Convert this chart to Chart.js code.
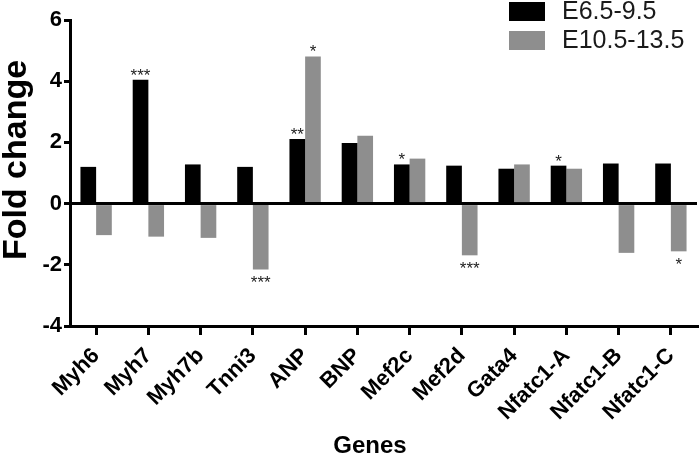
<!DOCTYPE html>
<html>
<head>
<meta charset="utf-8">
<script src="https://cdn.jsdelivr.net/npm/chart.js@4/dist/chart.umd.min.js"></script>
<style>
    html, body { margin: 0; padding: 0; background: #fff; }
    #wrap { width: 700px; height: 457px; position: relative; }
</style>
</head>
<body>
<div id="wrap"><canvas id="grafica"></canvas></div>
<script>
// Datos
const genes = ['Myh6', 'Myh7', 'Myh7b', 'Tnni3', 'ANP', 'BNP', 'Mef2c', 'Mef2d', 'Gata4', 'Nfatc1-A', 'Nfatc1-B', 'Nfatc1-C'];
const early = [1.20, 4.05, 1.28, 1.20, 2.11, 1.98, 1.28, 1.24, 1.14, 1.24, 1.31, 1.31];
const late = [-1.03, -1.08, -1.12, -2.15, 4.81, 2.22, 1.47, -1.69, 1.28, 1.14, -1.61, -1.56];
const sigEarly = ['', '***', '', '', '**', '', '*', '', '', '*', '', ''];
const sigLate = ['', '', '', '***', '*', '', '', '***', '', '', '', '*'];
const yTicks = [-4, -2, 0, 2, 4, 6];

const FONT = "Arial, 'Liberation Sans', sans-serif";

// asteriscos sobre / bajo las barras
const starsPlugin = {
    id: 'stars',
    afterDatasetsDraw(chart) {
        const ctx = chart.ctx;
        const marks = [sigEarly, sigLate];
        ctx.save();
        ctx.font = '17px ' + FONT;
        ctx.fillStyle = '#222';
        ctx.textAlign = 'center';
        ctx.textBaseline = 'alphabetic';
        chart.data.datasets.forEach((ds, i) => {
            const meta = chart.getDatasetMeta(i);
            meta.data.forEach((bar, j) => {
                const s = marks[i][j];
                if (!s) return;
                const v = ds.data[j];
                const y = v >= 0 ? bar.y + 1 : bar.y + 19;
                ctx.fillText(s, bar.x, y);
            });
        });
        ctx.restore();
    }
};

// leyenda y titulos de ejes
const extrasPlugin = {
    id: 'extras',
    afterDraw(chart) {
        const ctx = chart.ctx;
        ctx.save();
        ctx.font = '25px ' + FONT;
        ctx.textBaseline = 'middle';
        ctx.textAlign = 'left';
        chart.data.datasets.forEach((ds, i) => {
            const y = 2 + i * 29;
            ctx.fillStyle = ds.backgroundColor;
            ctx.fillRect(509, y, 36, 19);
            ctx.fillStyle = '#1a1a1a';
            ctx.fillText(ds.label, 562, y + 10);
        });
        // titulo eje x
        ctx.fillStyle = '#000';
        ctx.font = 'bold 24px ' + FONT;
        ctx.textAlign = 'center';
        ctx.fillText('Genes', 370, 446);
        // titulo eje y
        ctx.translate(17, 160);
        ctx.rotate(-Math.PI / 2);
        ctx.font = 'bold 34px ' + FONT;
        ctx.fillText('Fold change', 0, 0);
        ctx.restore();
    }
};

new Chart(document.getElementById('grafica'), {
    type: 'bar',
    data: {
        labels: genes,
        datasets: [
            { label: 'E6.5-9.5', data: early, backgroundColor: '#000000', categoryPercentage: 0.6, barPercentage: 1.0 },
            { label: 'E10.5-13.5', data: late, backgroundColor: '#8e8e8e', categoryPercentage: 0.6, barPercentage: 1.0 }
        ]
    },
    options: {
        responsive: true,
        maintainAspectRatio: false,
        animation: false,
        layout: { padding: { top: 20, right: 3, left: 0, bottom: 0 } },
        plugins: {
            legend: { display: false },
            tooltip: { enabled: false }
        },
        scales: {
            x: {
                grid: { display: true, drawOnChartArea: false, offset: false, color: '#000', tickLength: 9, lineWidth: 3 },
                border: { display: true, color: '#000', width: 3 },
                ticks: {
                    color: '#000',
                    font: { family: FONT, size: 22, weight: 'bold' },
                    maxRotation: 45, minRotation: 45,
                    padding: 8
                },
                afterFit(scale) { scale.height = 131; }
            },
            y: {
                min: -4, max: 6,
                afterBuildTicks(scale) { scale.ticks = yTicks.map(v => ({ value: v })); },
                grid: {
                    drawOnChartArea: true,
                    color: c => (c.tick && c.tick.value === 0 ? '#000' : 'rgba(0,0,0,0)'),
                    tickColor: '#000',
                    lineWidth: 3,
                    tickLength: 6
                },
                border: { display: true, color: '#000', width: 3 },
                ticks: {
                    color: '#000',
                    font: { family: FONT, size: 22, weight: 'bold' },
                    padding: 2
                },
                afterFit(scale) { scale.width = 70; }
            }
        }
    },
    plugins: [starsPlugin, extrasPlugin]
});
</script>
</body>
</html>
